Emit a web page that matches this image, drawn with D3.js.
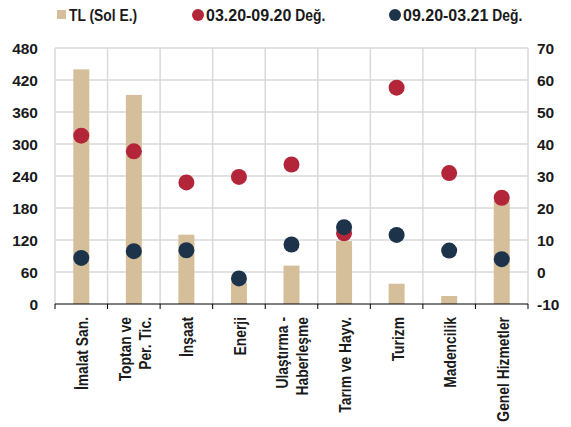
<!DOCTYPE html>
<html>
<head>
<meta charset="utf-8">
<script src="https://cdn.jsdelivr.net/npm/d3@7"></script>
<style>
  html, body { margin: 0; padding: 0; background: #fff; }
  svg text { font-family: "Liberation Sans", Arial, sans-serif; font-weight: bold; fill: #1a1a1a; }
</style>
</head>
<body>
<svg id="chart" width="571" height="427"></svg>
<script>
// Sectors (multi-line labels split with "|")
const categories = ["İmalat San.", "Toptan ve|Per. Tic.", "İnşaat", "Enerji", "Ulaştırma -|Haberleşme",
                    "Tarım ve Hayv.", "Turizm", "Madencilik", "Genel Hizmetler"];
// TL amounts, left axis
const tlValues = [440, 392, 130, 40, 72, 118, 38, 15, 193];
// Change 03.20-09.20, right axis
const chgMarSep = [42.6, 37.7, 28.0, 29.7, 33.6, 12.1, 57.6, 30.9, 23.2];
// Change 09.20-03.21, right axis
const chgSepMar = [4.4, 6.5, 6.8, -2.0, 8.6, 14.0, 11.6, 6.7, 4.0];
const leftTicks = [0, 60, 120, 180, 240, 300, 360, 420, 480];
const rightTicks = [-10, 0, 10, 20, 30, 40, 50, 60, 70];
const seriesNames = ["TL (Sol E.)", "03.20-09.20 Değ.", "09.20-03.21 Değ."];

const colTan = "#D5BF9B", colRed = "#B3263A", colNavy = "#1D3349", colGrid = "#D9D9D9";
const narrow = 0.84;   // horizontal squeeze for word labels

const svg = d3.select("#chart");
const plot = { left: 55, right: 528, top: 48, bottom: 304 };

const x = d3.scaleBand().domain(categories).range([plot.left, plot.right]).paddingInner(0).paddingOuter(0);
const yL = d3.scaleLinear().domain([0, 480]).range([plot.bottom, plot.top]);
const yR = d3.scaleLinear().domain([-10, 70]).range([plot.bottom, plot.top]);

// Horizontal gridlines
svg.append("g").selectAll("line").data(leftTicks.filter(t => t > 0)).join("line")
  .attr("x1", plot.left).attr("x2", plot.right)
  .attr("y1", d => yL(d)).attr("y2", d => yL(d))
  .attr("stroke", colGrid).attr("stroke-width", 1.5);

// Vertical gridlines at category boundaries
const bounds = categories.map(c => x(c)).concat([plot.right]);
svg.append("g").selectAll("line").data(bounds).join("line")
  .attr("x1", d => d).attr("x2", d => d)
  .attr("y1", plot.top).attr("y2", plot.bottom)
  .attr("stroke", colGrid).attr("stroke-width", 1.5);

// Bars
const barW = 16;
svg.append("g").selectAll("rect").data(categories).join("rect")
  .attr("x", (c) => x(c) + x.bandwidth() / 2 - barW / 2)
  .attr("width", barW)
  .attr("y", (c, i) => yL(tlValues[i]))
  .attr("height", (c, i) => yL(0) - yL(tlValues[i]))
  .attr("fill", colTan);

// Bottom axis line with ticks at boundaries
svg.append("line").attr("x1", plot.left).attr("x2", plot.right)
  .attr("y1", plot.bottom).attr("y2", plot.bottom)
  .attr("stroke", "#000").attr("stroke-width", 1);
svg.append("g").selectAll("line").data(bounds).join("line")
  .attr("x1", d => d).attr("x2", d => d)
  .attr("y1", plot.bottom).attr("y2", plot.bottom + 5)
  .attr("stroke", "#000").attr("stroke-width", 1);

// Dots
const r = 8;
svg.append("g").selectAll("circle").data(categories).join("circle")
  .attr("cx", c => x(c) + x.bandwidth() / 2)
  .attr("cy", (c, i) => yR(chgMarSep[i]))
  .attr("r", r).attr("fill", colRed);
svg.append("g").selectAll("circle").data(categories).join("circle")
  .attr("cx", c => x(c) + x.bandwidth() / 2)
  .attr("cy", (c, i) => yR(chgSepMar[i]))
  .attr("r", r).attr("fill", colNavy);

// Left axis labels
svg.append("g").selectAll("text").data(leftTicks).join("text")
  .attr("x", 38).attr("y", d => yL(d)).attr("dy", "0.36em")
  .attr("text-anchor", "end").attr("font-size", 15.5)
  .text(d => d);

// Right axis labels
svg.append("g").selectAll("text").data(rightTicks).join("text")
  .attr("x", 537).attr("y", d => yR(d)).attr("dy", "0.36em")
  .attr("text-anchor", "start").attr("font-size", 15.5)
  .text(d => d);

// Category labels, rotated and squeezed along the text direction
const lh = 20;
const catG = svg.append("g");
categories.forEach(c => {
  const lines = c.split("|");
  const cx = x(c) + x.bandwidth() / 2 + 1;
  const t = catG.append("text")
    .attr("transform", `translate(${cx},317) rotate(-90) scale(${narrow},1)`)
    .attr("text-anchor", "end").attr("font-size", 16.5);
  lines.forEach((ln, j) => {
    t.append("tspan").attr("x", 0)
      .attr("y", (j - (lines.length - 1) / 2) * lh)
      .attr("dy", "0.36em").text(ln);
  });
});

// Legend: numeric part at full width, words squeezed
function legendText(g, xPos, name) {
  const m = name.match(/^([\d.\-]+)(.*)$/);
  let cur = xPos;
  if (m) {
    const n = g.append("text").attr("x", cur).attr("y", 21).attr("font-size", 16).text(m[1]);
    cur += n.node().getComputedTextLength();
  }
  const words = m ? m[2] : name;
  g.append("text")
    .attr("transform", `translate(${cur},21) scale(${narrow},1)`)
    .attr("font-size", 16.5)
    .attr("xml:space", "preserve")
    .style("white-space", "pre")
    .text(words);
}
const lg = svg.append("g");
lg.append("rect").attr("x", 57).attr("y", 10).attr("width", 9).attr("height", 9).attr("fill", colTan);
legendText(lg, 69, seriesNames[0]);
lg.append("circle").attr("cx", 198).attr("cy", 15).attr("r", 6).attr("fill", colRed);
legendText(lg, 206, seriesNames[1]);
lg.append("circle").attr("cx", 395).attr("cy", 15).attr("r", 6).attr("fill", colNavy);
legendText(lg, 403, seriesNames[2]);
</script>
</body>
</html>
